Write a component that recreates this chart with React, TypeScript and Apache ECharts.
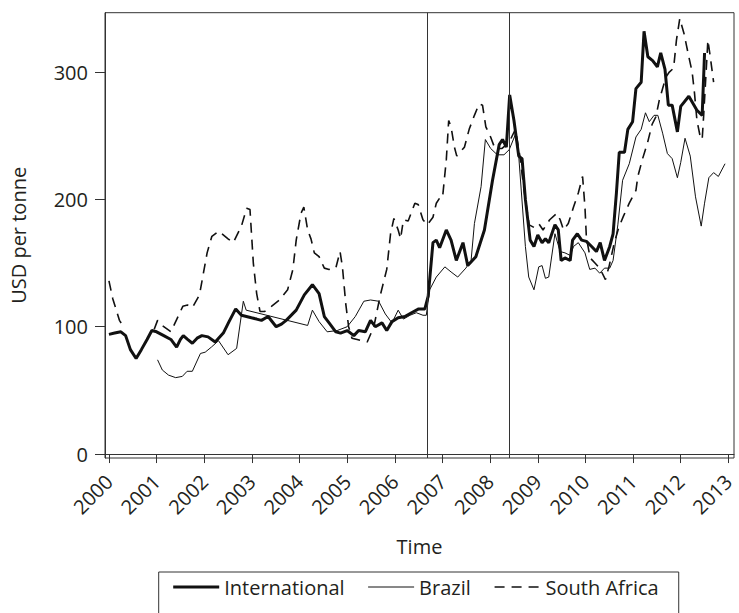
import React, { useEffect, useRef } from "react";
import * as echarts from "echarts";

const years = [2000, 2001, 2002, 2003, 2004, 2005, 2006, 2007, 2008, 2009, 2010, 2011, 2012, 2013];
const yTicks = [0, 100, 200, 300];
const breaks = [2006.67, 2008.4];
const seriesNames = ["International", "Brazil", "South Africa"];

const international: [number, number][] = [
  [2000.0, 94], [2000.12, 95], [2000.25, 96], [2000.35, 93], [2000.45, 82], [2000.57, 75],
  [2000.68, 82], [2000.8, 90], [2000.9, 97], [2001.0, 96], [2001.15, 93], [2001.3, 90],
  [2001.42, 84], [2001.5, 90], [2001.56, 93], [2001.65, 90], [2001.75, 87], [2001.85, 91],
  [2001.95, 93], [2002.08, 92], [2002.23, 88], [2002.4, 95], [2002.52, 104], [2002.66, 114],
  [2002.78, 109], [2002.99, 107], [2003.1, 106], [2003.2, 105], [2003.34, 108], [2003.51, 100],
  [2003.62, 102], [2003.72, 105], [2003.93, 113], [2004.1, 125], [2004.27, 133], [2004.41, 126],
  [2004.52, 108], [2004.62, 103], [2004.76, 96], [2004.86, 95], [2005.0, 97], [2005.14, 93],
  [2005.24, 97], [2005.38, 96], [2005.49, 105], [2005.59, 100], [2005.73, 103], [2005.83, 97],
  [2005.94, 104], [2006.07, 107], [2006.21, 108], [2006.35, 111], [2006.5, 114], [2006.63, 114],
  [2006.7, 124], [2006.8, 166], [2006.87, 168], [2006.94, 162], [2007.08, 176], [2007.18, 168],
  [2007.29, 152], [2007.43, 166], [2007.53, 148], [2007.7, 155], [2007.88, 176], [2008.05, 215],
  [2008.19, 243], [2008.26, 247], [2008.34, 241], [2008.41, 282], [2008.5, 262], [2008.6, 234],
  [2008.67, 232], [2008.74, 200], [2008.84, 168], [2008.92, 163], [2009.0, 172], [2009.09, 166],
  [2009.16, 169], [2009.23, 166], [2009.36, 180], [2009.43, 176], [2009.49, 152], [2009.57, 154],
  [2009.68, 152], [2009.73, 168], [2009.83, 173], [2009.92, 168], [2010.02, 167], [2010.13, 163],
  [2010.23, 159], [2010.31, 166], [2010.4, 152], [2010.51, 163], [2010.58, 173], [2010.65, 205],
  [2010.71, 237], [2010.82, 237], [2010.89, 255], [2010.99, 261], [2011.06, 287], [2011.17, 292],
  [2011.23, 332], [2011.31, 312], [2011.41, 309], [2011.51, 304], [2011.58, 315], [2011.67, 302],
  [2011.74, 274], [2011.82, 274], [2011.93, 253], [2012.0, 273], [2012.17, 281], [2012.34, 270],
  [2012.45, 266], [2012.5, 315],
];

const brazil: [number, number][] = [
  [2001.02, 74], [2001.12, 66], [2001.25, 62], [2001.4, 60], [2001.54, 61], [2001.64, 65],
  [2001.75, 65], [2001.92, 79], [2002.02, 80], [2002.15, 84], [2002.3, 89], [2002.5, 78],
  [2002.68, 83], [2002.82, 120], [2002.88, 113], [2004.17, 101], [2004.27, 113], [2004.41, 104],
  [2004.58, 96], [2004.79, 97], [2005.0, 100], [2005.17, 108], [2005.35, 120], [2005.49, 121],
  [2005.66, 120], [2005.8, 110], [2005.94, 103], [2006.07, 113], [2006.18, 106], [2006.32, 109],
  [2006.45, 111], [2006.59, 109], [2006.66, 109], [2006.73, 129], [2006.87, 139], [2007.05, 147],
  [2007.18, 143], [2007.32, 139], [2007.49, 146], [2007.6, 152], [2007.67, 181], [2007.81, 210],
  [2007.9, 247], [2008.01, 240], [2008.15, 235], [2008.29, 235], [2008.4, 239], [2008.53, 251],
  [2008.6, 234], [2008.74, 163], [2008.81, 139], [2008.92, 129], [2009.02, 147], [2009.09, 148],
  [2009.16, 138], [2009.23, 139], [2009.36, 173], [2009.47, 159], [2009.57, 158], [2009.68, 156],
  [2009.75, 163], [2009.85, 166], [2009.99, 158], [2010.09, 145], [2010.2, 146], [2010.3, 142],
  [2010.4, 146], [2010.51, 146], [2010.58, 152], [2010.68, 180], [2010.78, 215], [2010.92, 228],
  [2011.06, 249], [2011.17, 255], [2011.26, 268], [2011.34, 261], [2011.44, 266], [2011.52, 266],
  [2011.62, 252], [2011.72, 236], [2011.82, 232], [2011.93, 217], [2012.0, 229], [2012.09, 248],
  [2012.2, 234], [2012.31, 202], [2012.43, 179], [2012.5, 197], [2012.59, 217], [2012.69, 221],
  [2012.79, 218], [2012.93, 228],
];

const southAfrica: [number, number | null][] = [
  [2000.0, 136], [2000.08, 122], [2000.22, 105], [2000.29, 101], [2000.6, null],
  [2000.95, 98], [2001.02, 105], [2001.15, 100], [2001.3, 96], [2001.45, 108], [2001.55, 116],
  [2001.65, 117], [2001.75, 115], [2001.9, 125], [2002.06, 158], [2002.16, 171], [2002.3, 175],
  [2002.5, 169], [2002.61, 166], [2002.78, 179], [2002.89, 193], [2002.96, 192], [2003.03, 150],
  [2003.1, 126], [2003.17, 112], [2003.27, 112], [2003.41, 116], [2003.58, 121], [2003.75, 129],
  [2003.86, 145], [2003.93, 168], [2004.03, 189], [2004.09, 194], [2004.17, 176], [2004.24, 169],
  [2004.31, 158], [2004.41, 155], [2004.52, 146], [2004.62, 145], [2004.76, 146], [2004.85, 159],
  [2004.9, 147], [2004.97, 118], [2005.03, 100], [2005.1, 91], [2005.21, 90], [2005.42, 88],
  [2005.56, 100], [2005.69, 124], [2005.83, 145], [2005.91, 173], [2005.98, 185], [2006.07, 176],
  [2006.12, 169], [2006.18, 184], [2006.28, 183], [2006.42, 197], [2006.49, 196], [2006.59, 184],
  [2006.68, 180], [2006.8, 186], [2006.87, 197], [2006.94, 201], [2007.0, 201], [2007.08, 231],
  [2007.13, 262], [2007.18, 257], [2007.25, 241], [2007.3, 234], [2007.46, 241], [2007.56, 255],
  [2007.67, 266], [2007.77, 275], [2007.84, 274], [2007.91, 257], [2008.01, 249], [2008.1, 240],
  [2008.25, 240], [2008.4, 245], [2008.53, 255], [2008.62, 235], [2008.72, 205], [2008.82, 180],
  [2008.92, 178], [2009.02, 181], [2009.11, 176], [2009.25, 184], [2009.4, 189], [2009.47, 184],
  [2009.54, 176], [2009.64, 181], [2009.75, 194], [2009.85, 205], [2009.94, 218], [2009.99, 194],
  [2010.02, 170], [2010.1, 154], [2010.2, 150], [2010.3, 146], [2010.42, 137], [2010.5, 148],
  [2010.6, 165], [2010.7, 178], [2010.8, 187], [2010.92, 197], [2011.06, 207], [2011.1, 218],
  [2011.2, 232], [2011.3, 244], [2011.4, 259], [2011.48, 265], [2011.55, 278], [2011.62, 287],
  [2011.69, 296], [2011.76, 300], [2011.85, 303], [2011.91, 325], [2011.98, 342], [2012.07, 330],
  [2012.12, 321], [2012.17, 312], [2012.24, 300], [2012.29, 283], [2012.34, 262], [2012.41, 249],
  [2012.45, 247], [2012.48, 265], [2012.57, 325], [2012.62, 312], [2012.69, 292],
];

const FONT = "'Open Sans', 'Noto Sans', sans-serif";
const TEXT = "#231f20";
const AXIS = "#333333";

export default function App() {
  const ref = useRef<HTMLDivElement>(null);
  useEffect(() => {
    if (!ref.current) return;
    const chart = echarts.init(ref.current, null, { renderer: "svg" });
    chart.setOption({
      animation: false,
      textStyle: { fontFamily: FONT },
      grid: {
        left: 98.7, right: 5, top: 12.7, bottom: 155,
        show: true, borderColor: AXIS, borderWidth: 1, backgroundColor: "transparent",
      },
      xAxis: {
        type: "value", min: 1999.917, max: 2013.118,
        name: "Time", nameLocation: "middle", nameGap: 78,
        nameTextStyle: { fontSize: 20, color: TEXT, fontFamily: FONT },
        axisLine: { show: true, lineStyle: { color: AXIS, width: 1 } },
        axisTick: { show: true, length: 9, customValues: years, lineStyle: { color: AXIS } },
        axisLabel: {
          customValues: years, rotate: 45, margin: 20, fontSize: 20, color: TEXT, fontFamily: FONT,
          formatter: (v: number) => String(Math.round(v)),
        },
        splitLine: { show: false },
      },
      yAxis: {
        type: "value", min: -3.1, max: 346.6,
        name: "USD per tonne", nameLocation: "middle", nameGap: 77,
        nameTextStyle: { fontSize: 20, color: TEXT, fontFamily: FONT },
        axisLine: { show: true, lineStyle: { color: AXIS, width: 1 } },
        axisTick: { show: true, length: 10, customValues: yTicks, lineStyle: { color: AXIS } },
        axisLabel: {
          customValues: yTicks, margin: 17, fontSize: 20, color: TEXT, fontFamily: FONT,
          formatter: (v: number) => String(Math.round(v)),
        },
        splitLine: { show: false },
      },
      legend: {
        data: seriesNames,
        top: 572, left: 158.7,
        padding: [5, 20, 30, 13],
        itemGap: 23, itemWidth: 46, itemHeight: 14,
        borderColor: AXIS, borderWidth: 1,
        itemStyle: { opacity: 0 },
        lineStyle: { width: "inherit" },
        textStyle: { fontSize: 20, color: TEXT, fontFamily: FONT },
      },
      series: [
        {
          name: seriesNames[0], type: "line", data: international, symbol: "none", showSymbol: false,
          lineStyle: { color: "#111", width: 3 }, itemStyle: { color: "#111" }, z: 4,
          markLine: {
            silent: true, symbol: "none", label: { show: false },
            lineStyle: { color: AXIS, width: 1, type: "solid" },
            data: breaks.map((b) => ({ xAxis: b })),
          },
        },
        {
          name: seriesNames[1], type: "line", data: brazil, symbol: "none", showSymbol: false,
          lineStyle: { color: "#111", width: 1 }, itemStyle: { color: "#111" }, z: 3,
        },
        {
          name: seriesNames[2], type: "line", data: southAfrica, symbol: "none", showSymbol: false,
          connectNulls: false,
          lineStyle: { color: "#111", width: 1.6, type: [10, 7] }, itemStyle: { color: "#111" }, z: 2,
        },
      ],
    });
    return () => chart.dispose();
  }, []);
  return <div ref={ref} style={{ position: "absolute", left: 0, top: 0, width: 739, height: 613 }} />;
}
